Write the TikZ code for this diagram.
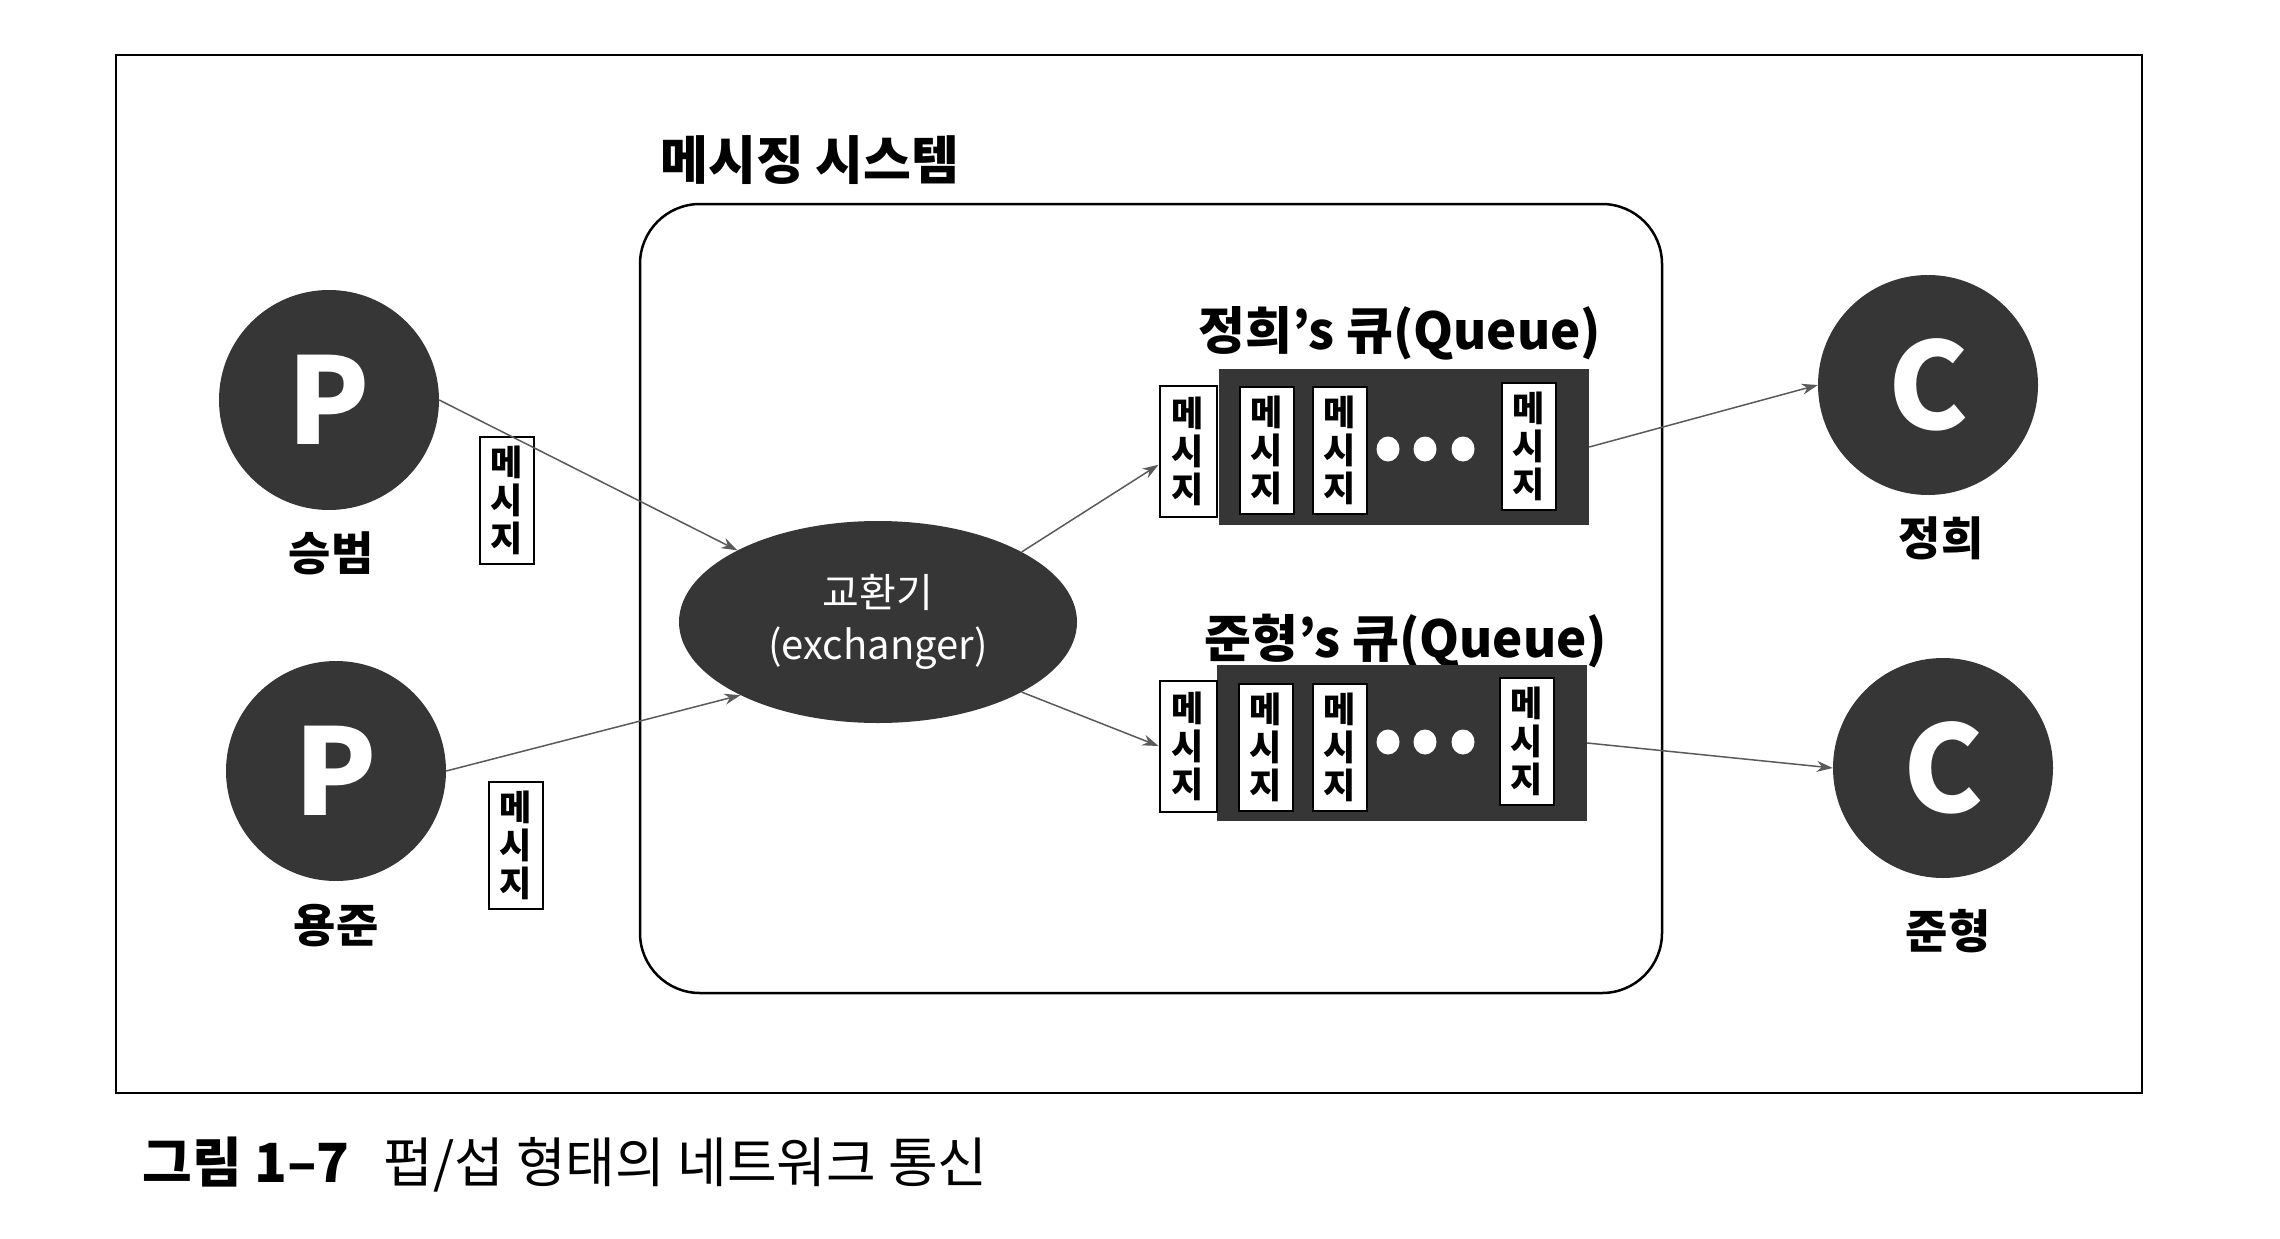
\documentclass[tikz,border=0pt]{standalone}
\usepackage{fontspec}
\setmainfont{Noto Sans CJK KR}
\usetikzlibrary{arrows.meta,shapes.geometric,calc}
\definecolor{dk}{HTML}{363636}
\definecolor{ln}{HTML}{5a5a5a}
\begin{document}
\begin{tikzpicture}[x=1pt,y=-1pt,
  pc/.style={circle,fill=dk,minimum size=220pt,inner sep=0pt,text=white,font=\fontsize{120}{120}\selectfont\bfseries},
  who/.style={font=\fontsize{46}{50}\selectfont\bfseries},
  msg/.style={draw=black,line width=2pt,fill=white,minimum width=54pt,minimum height=127pt,inner sep=0pt,align=center,font=\fontsize{35}{38}\selectfont\bfseries},
  qbox/.style={fill=dk,minimum width=370pt,minimum height=156pt,inner sep=0pt},
  qtitle/.style={font=\fontsize{51}{51}\selectfont\bfseries},
  qdot/.style={ellipse,fill=white,minimum width=23pt,minimum height=25pt,inner sep=0pt},
  arr/.style={draw=ln,line width=1.5pt,-{Stealth[length=16pt,width=11pt]}},
]
\fill[white] (0,0) rectangle (2280,1239);
\useasboundingbox (0,0) rectangle (2280,1239);

% outer frame
\draw[line width=2.5pt] (116,55) rectangle (2142,1093);

% messaging system box
\draw[line width=2.5pt,rounded corners=60pt] (640,204) rectangle (1662,993);
\node[font=\fontsize{52}{52}\selectfont\bfseries] (systitle) at (810,160) {메시징 시스템};

% producers
\node[pc] (p1) at (329,400) {P};
\node[who] (n1) at (331,553) {승범};
\node[pc] (p2) at (336,771) {P};
\node[who] (n2) at (336,926) {용준};

\node[msg] (m1) at (507,500) {메\\시\\지};
\node[msg] (m2) at (516,845) {메\\시\\지};

% exchanger
\node[ellipse,fill=dk,minimum width=398pt,minimum height=202pt,inner sep=0pt,text=white,align=center,font=\fontsize{40}{52}\selectfont] (ex) at (878,622) {교환기\\(exchanger)};

% queue 1
\node[qtitle] (qt1) at (1400,333) {정희's 큐(Queue)};
\node[qbox] (q1) at (1404,447) {};
\node[msg,minimum width=57pt,minimum height=131pt] (q1a) at (1188,451) {메\\시\\지};
\node[msg] (q1b) at (1267,450) {메\\시\\지};
\node[msg] (q1c) at (1340,450) {메\\시\\지};
\node[qdot] (q1d1) at (1388,449) {};
\node[qdot] (q1d2) at (1425,449) {};
\node[qdot] (q1d3) at (1463,449) {};
\node[msg] (q1e) at (1529,446) {메\\시\\지};

% queue 2
\node[qtitle] (qt2) at (1406,641) {준형's 큐(Queue)};
\node[qbox] (q2) at (1402,743) {};
\node[msg,minimum width=57pt,minimum height=131pt] (q2a) at (1188,746) {메\\시\\지};
\node[msg] (q2b) at (1266,747) {메\\시\\지};
\node[msg] (q2c) at (1340,747) {메\\시\\지};
\node[qdot] (q2d1) at (1388,742) {};
\node[qdot] (q2d2) at (1425,742) {};
\node[qdot] (q2d3) at (1463,742) {};
\node[msg] (q2e) at (1527,741) {메\\시\\지};

% consumers
\node[pc] (c1) at (1928,385) {C};
\node[who] (n3) at (1941,538) {정희};
\node[pc] (c2) at (1943,768) {C};
\node[who] (n4) at (1948,931) {준형};

% connectors
\draw[arr] (p1.east) -- (ex.153);
\draw[arr] (p2.east) -- (ex.208);
\draw[arr] (ex.26) -- (q1a.205);
\draw[arr] (ex.-26) -- (q2a.west);
\draw[arr] (q1.east) -- (c1.west);
\draw[arr] (q2.east) -- (c2.west);

% caption
\node[anchor=west,font=\fontsize{54}{54}\selectfont] (cap) at (139,1165) {{\bfseries 그림 1–7}\hspace{34pt}펍/섭 형태의 네트워크 통신};
\end{tikzpicture}
\end{document}
